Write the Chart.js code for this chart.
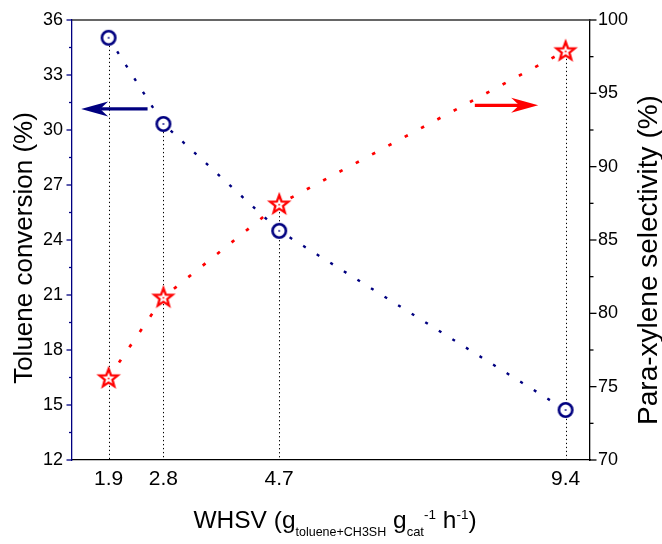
<!DOCTYPE html>
<html><head><meta charset="utf-8">
<script src="https://cdn.jsdelivr.net/npm/chart.js@4.4.0/dist/chart.umd.min.js"></script>
<style>html,body{margin:0;padding:0;background:#fff}</style>
</head><body>
<canvas id="c" width="662" height="544" style="width:662px;height:544px;display:block"></canvas>
<script>
// ---- data ----
const whsv = [1.9, 2.8, 4.7, 9.4];
const conversion = [35.03, 30.33, 24.5, 14.73];
const selectivity = [75.6, 81.1, 87.45, 97.9];
const xTicks = [1.9, 2.8, 4.7, 9.4];
const yLeftTicks = [12, 15, 18, 21, 24, 27, 30, 33, 36];
const yRightTicks = [70, 75, 80, 85, 90, 95, 100];
const arrowLeft = { from: [2.54, 31.15], to: [1.45, 31.15] };
const arrowRight = { from: [7.91, 94.18], to: [8.95, 94.18] };

const NAVY = '#000080';
const RED = '#ff0000';
const FONT = 'Arial, "Liberation Sans", sans-serif';

function circleImg() {
  const c = document.createElement('canvas'); c.width = c.height = 20;
  const g = c.getContext('2d');
  g.fillStyle = '#fff'; g.strokeStyle = NAVY; g.lineWidth = 2.6;
  g.beginPath(); g.arc(10, 10, 6.7, 0, Math.PI * 2); g.fill(); g.stroke();
  g.fillStyle = NAVY; g.fillRect(9.2, 9.2, 1.6, 1.6);
  return c;
}
function starImg() {
  const c = document.createElement('canvas'); c.width = c.height = 26;
  const g = c.getContext('2d');
  const R = 9.6, r = 4.0, cx = 13, cy = 13.6;
  g.beginPath();
  for (let i = 0; i < 10; i++) {
    const ang = -Math.PI / 2 + i * Math.PI / 5;
    const rad = i % 2 ? r : R;
    const px = cx + rad * Math.cos(ang), py = cy + rad * Math.sin(ang);
    i ? g.lineTo(px, py) : g.moveTo(px, py);
  }
  g.closePath();
  g.fillStyle = '#fff'; g.fill();
  g.strokeStyle = RED; g.lineWidth = 2.3; g.lineJoin = 'miter'; g.stroke();
  g.fillStyle = RED; g.fillRect(12.2, 12.8, 1.6, 1.6);
  return c;
}

function drawArrow(ctx, x0, y0, x1, y1, color) {
  const dir = Math.sign(x1 - x0);
  const L = 27, H = 7.5, notch = 19;
  ctx.save();
  ctx.strokeStyle = color; ctx.fillStyle = color; ctx.lineWidth = 3.2;
  ctx.beginPath(); ctx.moveTo(x0, y0); ctx.lineTo(x1 - dir * notch, y1); ctx.stroke();
  ctx.beginPath();
  ctx.moveTo(x1, y1);
  ctx.lineTo(x1 - dir * L, y1 - H);
  ctx.lineTo(x1 - dir * notch, y1);
  ctx.lineTo(x1 - dir * L, y1 + H);
  ctx.closePath(); ctx.fill();
  ctx.restore();
}

const deco = {
  id: 'deco',
  beforeDatasetsDraw(chart) {
    const { ctx, chartArea: a, scales: { x, y, y2 } } = chart;
    ctx.save();
    ctx.strokeStyle = '#000'; ctx.lineWidth = 1; ctx.setLineDash([1.3, 2.7]);
    whsv.forEach((v, i) => {
      const px = Math.round(x.getPixelForValue(v)) + 0.5;
      const top = Math.min(y.getPixelForValue(conversion[i]), y2.getPixelForValue(selectivity[i]));
      ctx.beginPath(); ctx.moveTo(px, top); ctx.lineTo(px, a.bottom); ctx.stroke();
    });
    ctx.restore();
  },
  afterDraw(chart) {
    const { ctx, chartArea: a, scales: { x, y, y2 } } = chart;
    ctx.save();
    // top frame
    ctx.strokeStyle = '#333'; ctx.lineWidth = 1.3;
    ctx.beginPath(); ctx.moveTo(a.left, a.top); ctx.lineTo(a.right, a.top); ctx.stroke();
    // left ticks
    ctx.strokeStyle = NAVY; ctx.lineWidth = 1.3;
    for (let i = 0; i < yLeftTicks.length; i++) {
      const p = y.getPixelForValue(yLeftTicks[i]);
      ctx.beginPath(); ctx.moveTo(a.left - 5.5, p); ctx.lineTo(a.left, p); ctx.stroke();
      if (i < yLeftTicks.length - 1) {
        const m = y.getPixelForValue((yLeftTicks[i] + yLeftTicks[i + 1]) / 2);
        ctx.beginPath(); ctx.moveTo(a.left - 3, m); ctx.lineTo(a.left, m); ctx.stroke();
      }
    }
    // right ticks
    ctx.strokeStyle = '#000';
    for (let i = 0; i < yRightTicks.length; i++) {
      const p = y2.getPixelForValue(yRightTicks[i]);
      ctx.beginPath(); ctx.moveTo(a.right, p); ctx.lineTo(a.right + 6.5, p); ctx.stroke();
      if (i < yRightTicks.length - 1) {
        const m = y2.getPixelForValue((yRightTicks[i] + yRightTicks[i + 1]) / 2);
        ctx.beginPath(); ctx.moveTo(a.right, m); ctx.lineTo(a.right + 3.5, m); ctx.stroke();
      }
    }
    // arrows
    drawArrow(ctx, x.getPixelForValue(arrowLeft.from[0]), y.getPixelForValue(arrowLeft.from[1]),
      x.getPixelForValue(arrowLeft.to[0]), y.getPixelForValue(arrowLeft.to[1]), NAVY);
    drawArrow(ctx, x.getPixelForValue(arrowRight.from[0]), y2.getPixelForValue(arrowRight.from[1]),
      x.getPixelForValue(arrowRight.to[0]), y2.getPixelForValue(arrowRight.to[1]), RED);
    // axis titles
    ctx.fillStyle = '#000';
    ctx.textAlign = 'center'; ctx.textBaseline = 'alphabetic';
    ctx.font = '26px ' + FONT;
    ctx.save(); ctx.translate(32, 248); ctx.rotate(-Math.PI / 2);
    ctx.fillText('Toluene conversion (%)', 0, 0); ctx.restore();
    ctx.font = '28px ' + FONT;
    ctx.save(); ctx.translate(657, 260); ctx.rotate(-Math.PI / 2);
    ctx.fillText('Para-xylene selectivity (%)', 0, 0); ctx.restore();
    // x title with sub/superscripts
    const segs = [
      { t: 'WHSV (g', f: 24.5, dy: 0 },
      { t: 'toluene+CH3SH', f: 12.5, dy: 8 },
      { t: ' g', f: 24.5, dy: 0 },
      { t: 'cat', f: 13, dy: 8 },
      { t: '-1', f: 13.5, dy: -9 },
      { t: ' h', f: 24.5, dy: 0 },
      { t: '-1', f: 13.5, dy: -9 },
      { t: ')', f: 24.5, dy: 0 }
    ];
    ctx.textAlign = 'left';
    let total = 0;
    segs.forEach(s => { ctx.font = s.f + 'px ' + FONT; s.w = ctx.measureText(s.t).width; total += s.w; });
    let cx = 335 - total / 2;
    const base = 528;
    segs.forEach(s => { ctx.font = s.f + 'px ' + FONT; ctx.fillText(s.t, cx, base + s.dy); cx += s.w; });
    ctx.restore();
  }
};

new Chart(document.getElementById('c'), {
  type: 'line',
  data: {
    datasets: [
      {
        label: 'Toluene conversion',
        data: whsv.map((v, i) => ({ x: v, y: conversion[i] })),
        yAxisID: 'y',
        borderColor: NAVY, borderWidth: 2.4, borderDash: [3, 13],
        pointStyle: circleImg(), pointRadius: 8, pointHoverRadius: 8,
        fill: false, tension: 0
      },
      {
        label: 'Para-xylene selectivity',
        data: whsv.map((v, i) => ({ x: v, y: selectivity[i] })),
        yAxisID: 'y2',
        borderColor: RED, borderWidth: 2.7, borderDash: [3.5, 15],
        pointStyle: starImg(), pointRadius: 10, pointHoverRadius: 10,
        fill: false, tension: 0
      }
    ]
  },
  options: {
    responsive: false, animation: false, devicePixelRatio: 1,
    layout: { padding: { top: 20, left: 0, right: 0, bottom: 0 } },
    plugins: { legend: { display: false }, tooltip: { enabled: false } },
    events: [],
    scales: {
      x: {
        type: 'linear', min: 1.3, max: 9.8,
        afterBuildTicks: s => { s.ticks = xTicks.map(v => ({ value: v })); },
        afterFit: s => { s.height = 84; },
        grid: { drawOnChartArea: false, drawTicks: false },
        border: { display: true, color: '#000', width: 1.3 },
        ticks: { color: '#000', font: { size: 21, family: FONT }, padding: 7, maxRotation: 0, autoSkip: false,
          callback: v => v.toFixed(1) }
      },
      y: {
        position: 'left', min: 12, max: 36,
        afterBuildTicks: s => { s.ticks = yLeftTicks.map(v => ({ value: v })); },
        afterFit: s => { s.width = 72; },
        grid: { drawOnChartArea: false, drawTicks: false },
        border: { display: true, color: NAVY, width: 1.3 },
        ticks: { color: '#000', font: { size: 18, family: FONT }, padding: 9, autoSkip: false }
      },
      y2: {
        position: 'right', min: 70, max: 100,
        afterBuildTicks: s => { s.ticks = yRightTicks.map(v => ({ value: v })); },
        afterFit: s => { s.width = 72; },
        grid: { drawOnChartArea: false, drawTicks: false },
        border: { display: true, color: '#000', width: 1.3 },
        ticks: { color: '#000', font: { size: 18, family: FONT }, padding: 8, autoSkip: false }
      }
    }
  },
  plugins: [deco]
});
</script>
</body></html>
